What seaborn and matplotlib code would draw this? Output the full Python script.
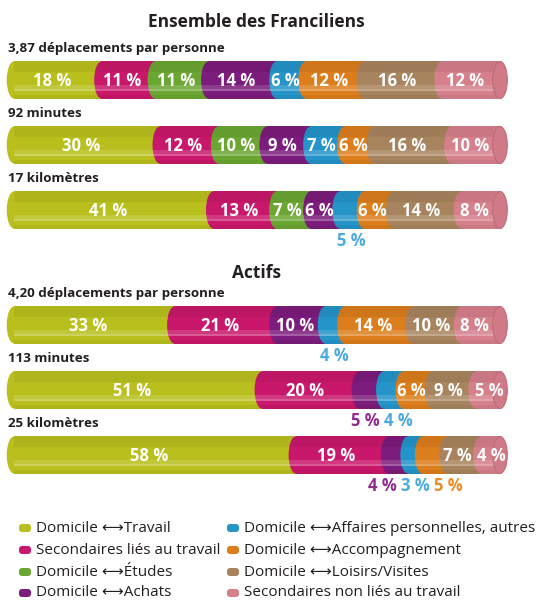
import matplotlib
matplotlib.use('Agg')
import numpy as np
import pandas as pd
import matplotlib.pyplot as plt
import seaborn as sns
from matplotlib.patches import Ellipse, FancyBboxPatch
from matplotlib import font_manager

# Categories and colours
categories = ['Domicile \u27f7Travail', 'Secondaires liés au travail', 'Domicile \u27f7Études',
              'Domicile \u27f7Achats', 'Domicile \u27f7Affaires personnelles, autres',
              'Domicile \u27f7Accompagnement', 'Domicile \u27f7Loisirs/Visites',
              'Secondaires non liés au travail']
colors = ['#b9c01d', '#c9186b', '#6ca632', '#7c1c7c', '#2594c9', '#dd7e1c', '#a8845e', '#d6808c']
label_colors = ['#b9c01d', '#c9186b', '#6ca632', '#8e2b8e', '#4aaade', '#ee8a25', '#a8845e', '#d6808c']

group_titles = ['Ensemble des Franciliens', 'Actifs']
ensemble_rows = ['3,87 déplacements par personne', '92 minutes', '17 kilomètres']
ensemble_values = [[18, 11, 11, 14, 6, 12, 16, 12],
                   [30, 12, 10, 9, 7, 6, 16, 10],
                   [41, 13, 7, 6, 5, 6, 14, 8]]
actifs_rows = ['4,20 déplacements par personne', '113 minutes', '25 kilomètres']
actifs_values = [[33, 21, 0, 10, 4, 14, 10, 8],
                 [51, 20, 0, 5, 4, 6, 9, 5],
                 [58, 19, 0, 4, 3, 5, 7, 4]]

sns.set_style('white')
installed = {f.name for f in font_manager.fontManager.ttflist}
main_font = 'Liberation Sans Narrow' if 'Liberation Sans Narrow' in installed else 'Open Sans'
plt.rcParams['font.family'] = [main_font, 'DejaVu Sans']

W, H = 547, 602
fig = plt.figure(figsize=(W / 100, H / 100), dpi=100)

BAR_H = 0.57
CAP_W = 3.0


def draw_group(ax, rows, values):
    df = pd.DataFrame(values, columns=categories, index=rows)
    cum = df.cumsum(axis=1)
    # stacked bars: draw cumulative totals from the widest down
    for i in range(len(categories) - 1, -1, -1):
        sns.barplot(x=cum.iloc[:, i].values, y=rows, orient='h', color=colors[i],
                    saturation=1, width=BAR_H, ax=ax, linewidth=0)

    last = len(categories) - 1
    for r, row in enumerate(rows):
        vals = df.loc[row].values
        ends = cum.loc[row].values
        # rounded left ends of each piece (cylinder look)
        for i in range(len(categories)):
            if vals[i] == 0:
                continue
            ax.add_patch(Ellipse((ends[i] - vals[i], r), CAP_W, BAR_H, color=colors[i],
                                 lw=0, clip_on=False, zorder=3))
        # shading
        ax.barh(r - BAR_H * 0.36, 100, height=BAR_H * 0.28, color='black', alpha=0.06, lw=0, zorder=4)
        ax.barh(r + BAR_H * 0.22, 100, height=BAR_H * 0.16, color='white', alpha=0.14, lw=0, zorder=4)
        ax.barh(r + BAR_H * 0.27, 100, height=BAR_H * 0.03, color='white', alpha=0.18, lw=0, zorder=4)
        ax.barh(r + BAR_H * 0.45, 100, height=BAR_H * 0.10, color='black', alpha=0.05, lw=0, zorder=4)
        # right end face
        ax.add_patch(Ellipse((100, r), CAP_W, BAR_H, facecolor='#cf7a86', edgecolor='#c06c78',
                             lw=0.8, clip_on=False, zorder=5))

        # value labels: inside when wide enough, below otherwise
        below = []
        for i in range(len(categories)):
            if vals[i] == 0:
                continue
            mid = ends[i] - vals[i] / 2
            if vals[i] >= 6 or i == last:
                nudge = 0.3 if (i == last and vals[i] < 7) else -1.2
                ax.text(mid + nudge, r + 0.02, f'{vals[i]} %', ha='center', va='center', color='white',
                        fontsize=12, fontweight='bold', zorder=6)
            else:
                below.append([mid, i])
        if below:
            gap = 6.8
            pos = [b[0] for b in below]
            for k in range(1, len(pos)):
                pos[k] = max(pos[k], pos[k - 1] + gap)
            shift = np.mean([b[0] for b in below]) - np.mean(pos)
            for (mid, i), p in zip(below, pos):
                ax.text(p + shift, r + 0.34, f'{vals[i]} %', ha='center', va='top',
                        color=label_colors[i], fontsize=12, fontweight='bold', zorder=6)

        ax.text(-1.2, r - BAR_H / 2 - 0.1, row, ha='left', va='bottom', fontsize=9.6,
                fontweight='bold', color='#231f20')

    ax.set_xlim(0, 100)
    ax.set_ylim(len(rows) - 0.5, -0.5)
    ax.axis('off')


x0, x1 = 14, 500
ax1 = fig.add_axes([x0 / W, 1 - 242.5 / H, (x1 - x0) / W, 195 / H])
ax2 = fig.add_axes([x0 / W, 1 - 487.5 / H, (x1 - x0) / W, 195 / H])
draw_group(ax1, ensemble_rows, ensemble_values)
draw_group(ax2, actifs_rows, actifs_values)
fig.text(256 / W, 1 - 22 / H, group_titles[0], ha='center', va='center', fontsize=12.5,
         fontweight='bold', color='#231f20')
fig.text(256 / W, 1 - 273 / H, group_titles[1], ha='center', va='center', fontsize=12.5,
         fontweight='bold', color='#231f20')

# legend with small cylinder markers
lax = fig.add_axes([0, 0, 1, 1], facecolor='none')
lax.set_xlim(0, W)
lax.set_ylim(H, 0)
lax.axis('off')
col_x = [25, 233]
row_y = [528, 550, 572, 593]
for i, cat in enumerate(categories):
    cx = col_x[i // 4]
    cy = row_y[i % 4]
    lax.add_patch(FancyBboxPatch((cx - 6, cy - 4), 12, 8, boxstyle='round,pad=0,rounding_size=3',
                                 facecolor=colors[i], edgecolor='none'))
    lax.text(cx + 11, cy, cat, ha='left', va='center', fontsize=11, color='#231f20')

fig.savefig('out.png', dpi=100)
